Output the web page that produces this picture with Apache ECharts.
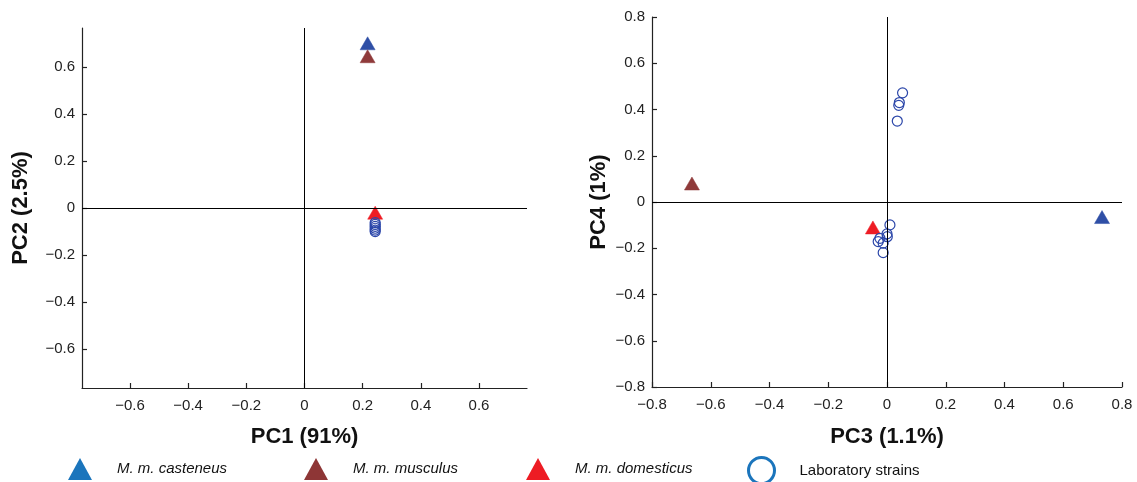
<!DOCTYPE html>
<html>
<head>
<meta charset="utf-8">
<script src="https://cdn.jsdelivr.net/npm/echarts@6/dist/echarts.min.js"></script>
<style>
html, body { margin: 0; padding: 0; background: #fff; }
#chart { width: 1137px; height: 482px; }
</style>
</head>
<body>
<div id="chart"></div>
<script>
var seriesNames = ['M. m. casteneus', 'M. m. musculus', 'M. m. domesticus', 'Laboratory strains'];

// PC1 vs PC2 scores
var castPC12 = [[0.217, 0.700]];
var muscPC12 = [[0.217, 0.645]];
var domePC12 = [[0.243, -0.020]];
var labPC12 = [[0.243, -0.062], [0.243, -0.070], [0.243, -0.078], [0.243, -0.086], [0.243, -0.094], [0.243, -0.100]];

// PC3 vs PC4 scores
var castPC34 = [[0.732, -0.065]];
var muscPC34 = [[-0.664, 0.080]];
var domePC34 = [[-0.048, -0.110]];
var labPC34 = [[0.053, 0.472], [0.042, 0.430], [0.040, 0.418], [0.035, 0.350],
  [0.010, -0.099], [0.000, -0.138], [0.001, -0.150], [-0.024, -0.157],
  [-0.030, -0.171], [-0.013, -0.178], [-0.013, -0.219]];

var ticksPC12 = [-0.6, -0.4, -0.2, 0, 0.2, 0.4, 0.6];

var plotColors = ['#2f4fa6', '#8f3a3a', '#ee1c24', '#2b46a9'];
var legendColors = ['#1b75bc', '#8e3636', '#ed1c24', '#1b75bc'];

var axisColor = '#222';
var labelColor = '#222';

function fmt(v) {
  var r = Math.round(v * 10) / 10;
  if (r === 0) return '0';
  return String(r).replace('-', '\u2212');
}

function makeAxis(grid, opt) {
  var ax = {
    type: 'value',
    gridIndex: grid,
    min: opt.min,
    max: opt.max,
    name: opt.name,
    nameLocation: 'middle',
    nameGap: opt.nameGap,
    nameRotate: opt.rotate || 0,
    nameTextStyle: { fontFamily: 'Liberation Sans', fontWeight: 'bold', fontSize: 22, color: '#111' },
    axisLine: { show: true, onZero: false, lineStyle: { color: axisColor, width: 1.2 } },
    axisTick: { show: true, inside: true, length: 5, lineStyle: { color: axisColor, width: 1.2 } },
    axisLabel: { color: labelColor, fontSize: 15, fontFamily: 'Liberation Sans', margin: opt.margin, formatter: fmt },
    splitLine: { show: false }
  };
  if (opt.ticks) {
    ax.axisTick.customValues = opt.ticks;
    ax.axisLabel.customValues = opt.ticks;
  } else {
    ax.interval = 0.2;
  }
  return ax;
}

function tri(name, data, grid, color) {
  return {
    type: 'scatter', name: name, xAxisIndex: grid, yAxisIndex: grid,
    data: data, symbol: 'triangle', symbolSize: [15, 13], z: 3,
    itemStyle: { color: color, borderColor: color, borderWidth: 0.5, opacity: 1 }
  };
}

function circ(name, data, grid) {
  return {
    type: 'scatter', name: name, xAxisIndex: grid, yAxisIndex: grid,
    data: data, symbol: 'circle', symbolSize: 10, z: 4,
    itemStyle: { color: 'rgba(255,255,255,0)', borderColor: plotColors[3], borderWidth: 1.2, opacity: 1 }
  };
}

function originLines(grid) {
  return {
    type: 'line', name: 'origin', xAxisIndex: grid, yAxisIndex: grid, data: [], z: 1,
    markLine: {
      silent: true, symbol: 'none', animation: false,
      label: { show: false },
      lineStyle: { color: '#000', width: 1, type: 'solid' },
      emphasis: { disabled: true },
      data: [{ xAxis: 0 }, { yAxis: 0 }]
    }
  };
}

function legendItem(i, left, top, w, h, icon, style) {
  return {
    left: left, top: top, padding: 0, itemWidth: w, itemHeight: h, selectedMode: false,
    textStyle: { fontFamily: 'Liberation Sans', fontSize: 15, color: '#111', padding: [0, 0, 0, 20] },
    data: [{ name: seriesNames[i], icon: icon, itemStyle: style,
      textStyle: { fontStyle: i < 3 ? 'italic' : 'normal', padding: [0, 0, 0, 20], lineHeight: 22, height: 22, verticalAlign: 'bottom' } }]
  };
}

var chart = echarts.init(document.getElementById('chart'));
chart.setOption({
  backgroundColor: '#fff',
  animation: false,
  grid: [
    { left: 82, top: 28, width: 445, height: 360 },
    { left: 652, top: 17, width: 470, height: 370 }
  ],
  xAxis: [
    makeAxis(0, { min: -0.765, max: 0.765, name: 'PC1 (91%)', nameGap: 38, margin: 10, ticks: ticksPC12 }),
    makeAxis(1, { min: -0.8, max: 0.8, name: 'PC3 (1.1%)', nameGap: 39, margin: 10 })
  ],
  yAxis: [
    makeAxis(0, { min: -0.765, max: 0.765, name: 'PC2 (2.5%)', nameGap: 50, rotate: 90, margin: 7, ticks: ticksPC12 }),
    makeAxis(1, { min: -0.8, max: 0.8, name: 'PC4 (1%)', nameGap: 42, rotate: 90, margin: 7 })
  ],
  legend: [
    legendItem(0, 68, 458, 24, 22, 'triangle', { color: legendColors[0], borderWidth: 0 }),
    legendItem(1, 304, 458, 24, 22, 'triangle', { color: legendColors[1], borderWidth: 0 }),
    legendItem(2, 526, 458, 24, 22, 'triangle', { color: legendColors[2], borderWidth: 0 }),
    legendItem(3, 747, 456, 26, 26, 'circle', { color: 'rgba(255,255,255,0)', borderColor: legendColors[3], borderWidth: 3 })
  ],
  series: [
    originLines(0),
    originLines(1),
    tri(seriesNames[0], castPC12, 0, plotColors[0]),
    tri(seriesNames[1], muscPC12, 0, plotColors[1]),
    tri(seriesNames[2], domePC12, 0, plotColors[2]),
    circ(seriesNames[3], labPC12, 0),
    tri(seriesNames[0], castPC34, 1, plotColors[0]),
    tri(seriesNames[1], muscPC34, 1, plotColors[1]),
    tri(seriesNames[2], domePC34, 1, plotColors[2]),
    circ(seriesNames[3], labPC34, 1)
  ]
});
</script>
</body>
</html>
